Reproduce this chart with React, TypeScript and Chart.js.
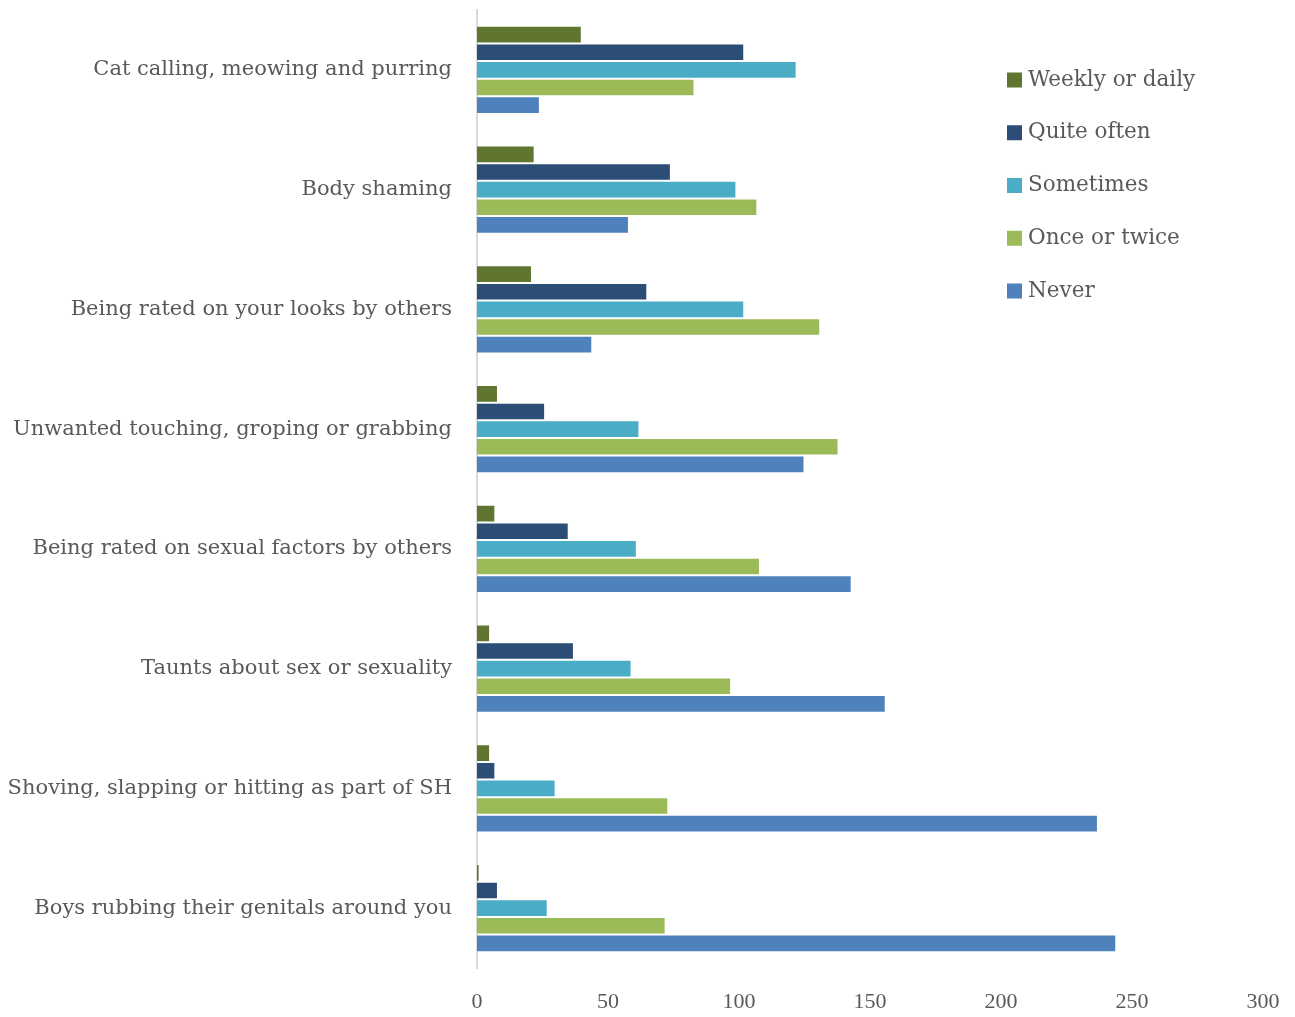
import React, { useEffect, useRef } from "react";
import { Chart, registerables } from "chart.js";

Chart.register(...registerables);

const categories = [
  "Cat calling, meowing and purring",
  "Body shaming",
  "Being rated on your looks by others",
  "Unwanted touching, groping or grabbing",
  "Being rated on sexual factors by others",
  "Taunts about sex or sexuality",
  "Shoving, slapping or hitting as part of SH",
  "Boys rubbing their genitals around you",
];

const seriesLabels = ["Weekly or daily", "Quite often", "Sometimes", "Once or twice", "Never"];
const weeklyOrDaily = [40, 22, 21, 8, 7, 5, 5, 1];
const quiteOften = [102, 74, 65, 26, 35, 37, 7, 8];
const sometimes = [122, 99, 102, 62, 61, 59, 30, 27];
const onceOrTwice = [83, 107, 131, 138, 108, 97, 73, 72];
const never = [24, 58, 44, 125, 143, 156, 237, 244];
const seriesColors = ["#5F7530", "#2C4D75", "#4BACC6", "#9BBB59", "#4F81BD"];

const xMin = 0;
const xMax = 300;
const xStep = 50;

const LABEL_FONT = "'DejaVu Serif', serif";
const TEXT_COLOR = "#595959";

const legendPlugin = {
  id: "customLegend",
  afterDraw(chart: any) {
    const ctx = chart.ctx;
    ctx.save();
    ctx.font = `21.5px ${LABEL_FONT}`;
    ctx.textBaseline = "middle";
    ctx.textAlign = "left";
    chart.data.datasets.forEach((ds: any, i: number) => {
      const y = 80 + i * 52.75;
      ctx.fillStyle = ds.backgroundColor;
      ctx.fillRect(1007, y - 7.5, 15, 15);
      ctx.fillStyle = TEXT_COLOR;
      ctx.fillText(ds.label, 1028, y);
    });
    ctx.restore();
  },
};

export default function App() {
  const ref = useRef<HTMLCanvasElement | null>(null);
  useEffect(() => {
    if (!ref.current) return;
    const seriesData = [weeklyOrDaily, quiteOften, sometimes, onceOrTwice, never];
    const chart = new Chart(ref.current, {
      type: "bar",
      data: {
        labels: categories,
        datasets: seriesLabels.map((label, i) => ({
          label,
          data: seriesData[i],
          backgroundColor: seriesColors[i],
          borderColor: "rgba(255,255,255,0.45)",
          borderWidth: 1,
          categoryPercentage: 0.735,
          barPercentage: 1.0,
        })),
      },
      options: {
        indexAxis: "y",
        animation: false,
        responsive: false,
        maintainAspectRatio: false,
        layout: { padding: { top: 10, right: 32, left: 0, bottom: 0 } },
        plugins: {
          legend: { display: false },
          tooltip: { enabled: false },
        },
        scales: {
          x: {
            min: xMin,
            max: xMax,
            grid: { display: false, drawTicks: false },
            border: { display: false },
            ticks: {
              stepSize: xStep,
              padding: 21,
              color: TEXT_COLOR,
              font: { family: "'Liberation Serif', serif", size: 22 },
            },
            afterFit(scale: any) {
              scale.height = 49;
              scale.paddingRight = 0;
            },
          },
          y: {
            grid: { display: false, drawTicks: false },
            border: { display: true, color: "#d9d9d9", width: 2 },
            ticks: {
              padding: 25,
              color: TEXT_COLOR,
              font: { family: LABEL_FONT, size: 21 },
            },
            afterFit(scale: any) {
              scale.width = 477;
              scale.paddingTop = 0;
              scale.paddingBottom = 0;
            },
          },
        },
      },
      plugins: [legendPlugin],
    } as any);
    return () => chart.destroy();
  }, []);
  return (
    <div style={{ position: "absolute", left: 0, top: 0, width: 1295, height: 1017, background: "#fff" }}>
      <canvas ref={ref} width={1295} height={1017} style={{ width: 1295, height: 1017 }} />
    </div>
  );
}
